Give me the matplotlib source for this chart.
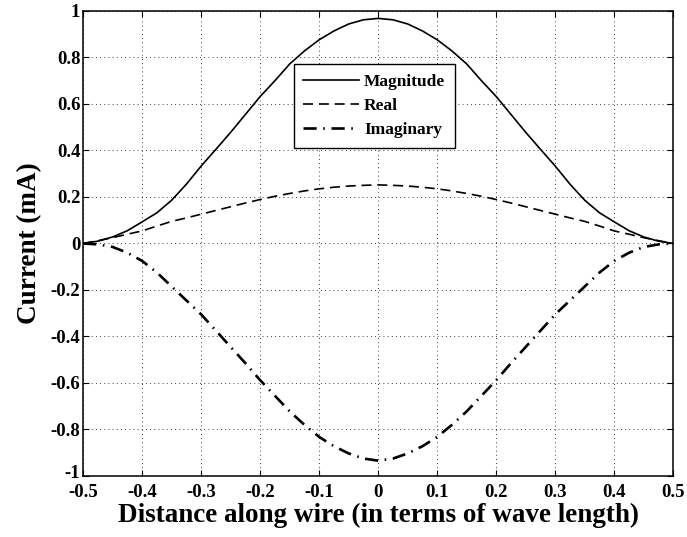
import numpy as np
import matplotlib
matplotlib.use("Agg")
import matplotlib.pyplot as plt
import matplotlib.transforms as mtransforms

# distance along wire (wavelengths), left half; curves are symmetric
x_half = [-0.5, -0.475, -0.45, -0.425, -0.4, -0.375, -0.35, -0.325, -0.3, -0.275,
          -0.25, -0.225, -0.2, -0.175, -0.15, -0.125, -0.1, -0.075, -0.05, -0.025, 0.0]
mag_half = [0.0, 0.010, 0.028, 0.055, 0.093, 0.132, 0.186, 0.255, 0.333, 0.405,
            0.478, 0.555, 0.632, 0.700, 0.772, 0.828, 0.876, 0.914, 0.944, 0.962, 0.968]
real_half = [0.0, 0.012, 0.025, 0.040, 0.054, 0.075, 0.095, 0.110, 0.126, 0.142,
             0.158, 0.174, 0.189, 0.203, 0.215, 0.226, 0.235, 0.242, 0.247, 0.250, 0.252]
imag_half = [0.0, -0.004, -0.015, -0.040, -0.075, -0.125, -0.185, -0.245, -0.305, -0.375,
             -0.445, -0.515, -0.588, -0.655, -0.722, -0.780, -0.832, -0.872, -0.903, -0.925, -0.934]

x = np.array(x_half + [-v for v in x_half[-2::-1]])
mag = np.array(mag_half + mag_half[-2::-1])
real = np.array(real_half + real_half[-2::-1])
imag = np.array(imag_half + imag_half[-2::-1])

xticks = [-0.5, -0.4, -0.3, -0.2, -0.1, 0, 0.1, 0.2, 0.3, 0.4, 0.5]
xticklabels = ['-0.5', '-0.4', '-0.3', '-0.2', '-0.1', '0', '0.1', '0.2', '0.3', '0.4', '0.5']
yticks = [-1, -0.8, -0.6, -0.4, -0.2, 0, 0.2, 0.4, 0.6, 0.8, 1]
yticklabels = ['-1', '-0.8', '-0.6', '-0.4', '-0.2', '0', '0.2', '0.4', '0.6', '0.8', '1']

plt.rcParams['font.family'] = 'Liberation Serif'
plt.rcParams['font.weight'] = 'bold'

fig = plt.figure(figsize=(6.87, 5.37), dpi=100)
ax = fig.add_axes([0.121, 0.1136, 0.859, 0.866])

ax.plot(x, mag, color='k', lw=1.2, label='Magnitude')
ax.plot(x, real, color='k', lw=1.2, dashes=(6, 3.5), label='Real')
ax.plot(x, imag, color='k', lw=1.9, dashes=(5, 2.5, 0.6, 2.5), label='Imaginary')

ax.set_xlim(-0.5, 0.5)
ax.set_ylim(-1, 1)
ax.set_xticks(xticks)
ax.set_xticklabels(xticklabels)
ax.set_yticks(yticks)
ax.set_yticklabels(yticklabels)
ax.tick_params(direction='in', top=True, right=True, length=4, width=0.8,
               labelsize=13.5)
ax.tick_params(axis='x', pad=5.5)
ax.tick_params(axis='y', pad=2)
for s in ax.spines.values():
    s.set_linewidth(1.1)

# lift the bottom y label a little so it clears the first x label
lbl = ax.get_yticklabels()[0]
lbl.set_transform(lbl.get_transform() + mtransforms.ScaledTranslation(0, 3 / 72, fig.dpi_scale_trans))

ax.grid(True, color='k', linestyle=(0, (1, 4)), linewidth=0.6)

ax.set_xlabel('Distance along wire (in terms of wave length)', fontsize=19.5,
              fontweight='bold', labelpad=1.5)
ax.set_ylabel('Current (mA)', fontsize=19.5, fontweight='bold', labelpad=6)

leg = ax.legend(loc='upper left', bbox_to_anchor=(0.357, 0.885), borderaxespad=0,
                fancybox=False, edgecolor='k', framealpha=1, fontsize=12.5,
                handlelength=3.2, handletextpad=0.3, borderpad=0.55, labelspacing=0.45)
leg.get_frame().set_linewidth(1.0)

fig.savefig('out.png', dpi=100)
